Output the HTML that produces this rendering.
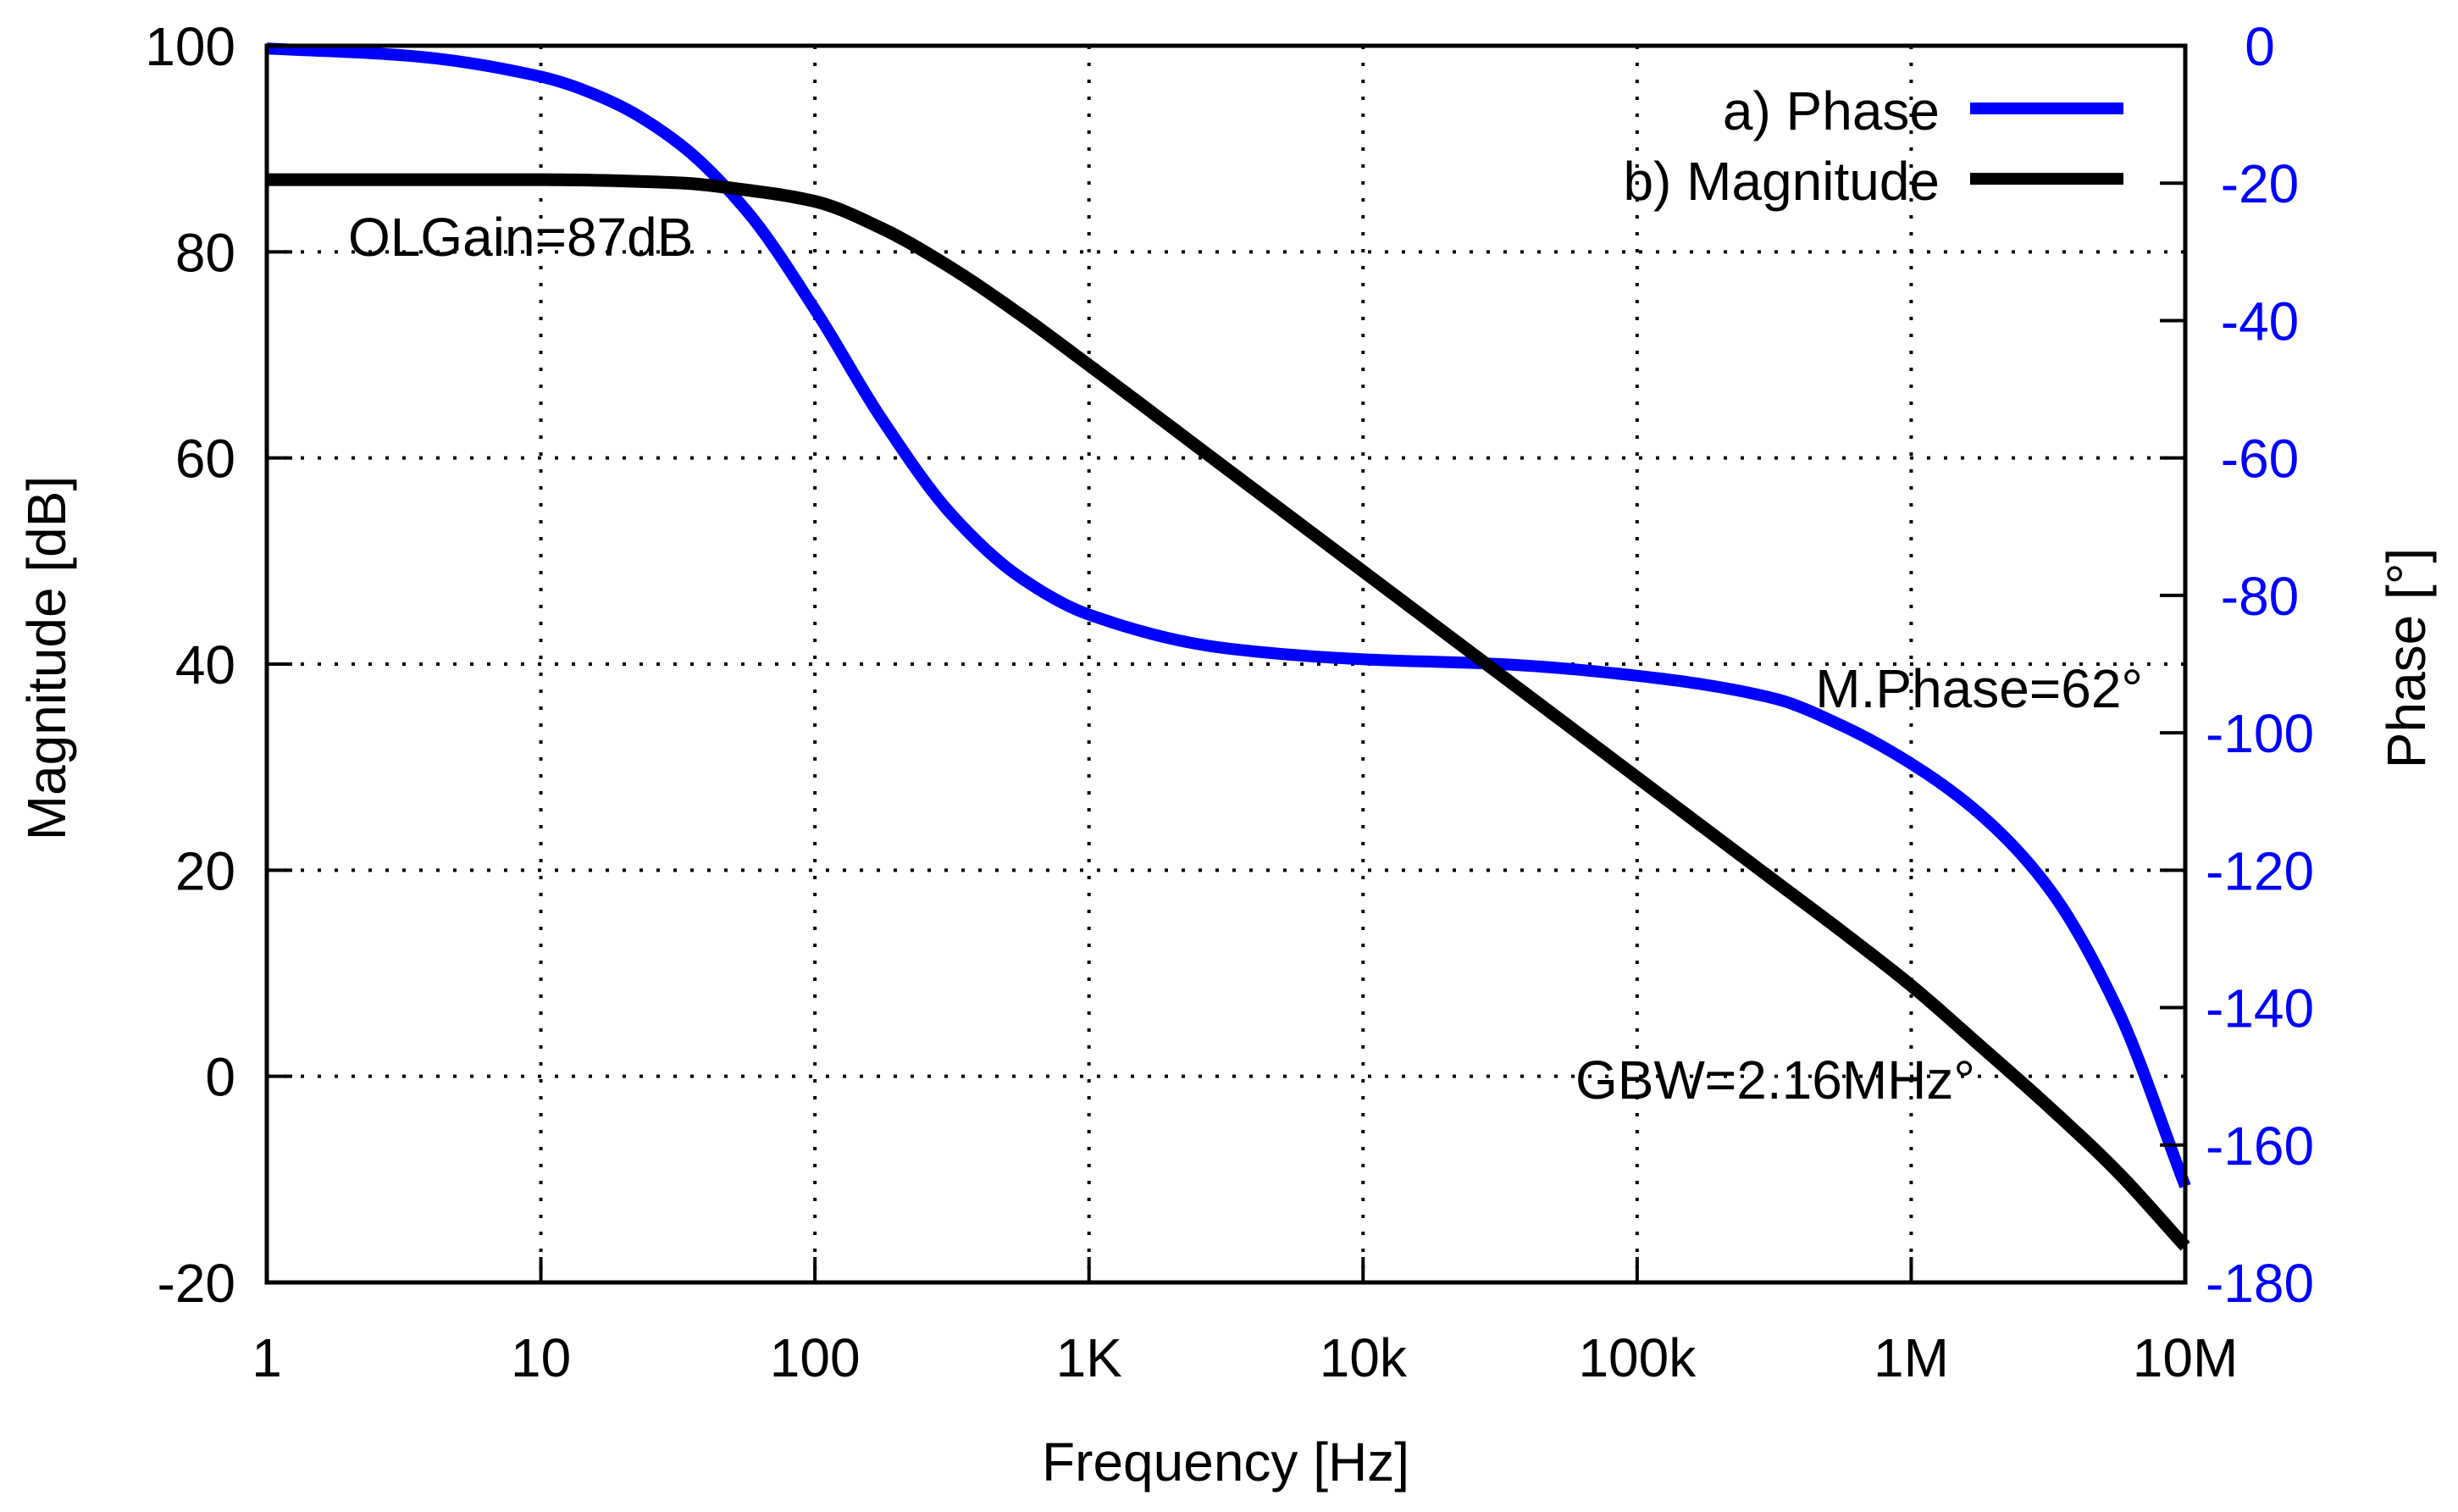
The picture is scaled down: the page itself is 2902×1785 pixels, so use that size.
<!DOCTYPE html>
<html><head><meta charset="utf-8"><style>
html,body{margin:0;padding:0;background:#fff;}
svg{display:block;}
text{font-family:"Liberation Sans",sans-serif;}
</style></head><body>
<svg id="chart" width="2902" height="1785" viewBox="0 0 2902 1785">
<g id="grid"></g>
<g id="series"></g>
<g id="axes"></g>
<text x="60" y="777" font-size="64" text-anchor="middle" transform="rotate(-90 60 777)" dominant-baseline="middle">Magnitude [dB]</text>
<text x="2846" y="777" font-size="64" text-anchor="middle" transform="rotate(-90 2846 777)" dominant-baseline="middle">Phase [°]</text>
<text x="1447" y="1748" font-size="64" text-anchor="middle">Frequency [Hz]</text>
<text x="411" y="302" font-size="64">OLGain=87dB</text>
<text x="2530" y="835" font-size="64" text-anchor="end">M.Phase=62°</text>
<text x="1860" y="1297" font-size="64">GBW=2.16MHz°</text>
<g>
<text x="2290" y="153" font-size="64" text-anchor="end">a) Phase</text>
<line x1="2326" y1="128" x2="2507" y2="128" stroke="#0000ff" stroke-width="14"/>
<text x="2290" y="236" font-size="64" text-anchor="end">b) Magnitude</text>
<line x1="2326" y1="211" x2="2507" y2="211" stroke="#000" stroke-width="14"/>
</g>
</svg>
<script>
const magDecades = [0,0.5,1,1.5,1.75,2,2.25,2.5,2.75,3,3.5,4,4.5,5,5.5,5.75,6,6.25,6.5,6.75,7];
const magnitude = [87,87,87,86.7,86.0,84.9,82.2,78.4,73.9,69,59,49,39,29,19,14,8.8,3.0,-2.9,-9.2,-16.5];
const phaseDecades = [0,0.5,1,1.25,1.5,1.75,2,2.25,2.5,2.75,3,3.5,4,4.5,5,5.5,5.75,6,6.25,6.5,6.75,7];
const phase = [-0.4,-1.4,-4.5,-8,-14.1,-24,-38.4,-54.7,-68.3,-77.4,-82.8,-87.7,-89.3,-90,-91.7,-95,-99,-104.5,-111.8,-122.5,-140,-166];
const xTickValues = [1,10,100,1000,1e4,1e5,1e6,1e7];
const xTickLabels = ["1","10","100","1K","10k","100k","1M","10M"];
const magTicks = [-20,0,20,40,60,80,100];
const phaseTicks = [0,-20,-40,-60,-80,-100,-120,-140,-160,-180];

const L=315,R=2580,T=54,B=1514;
const NS="http://www.w3.org/2000/svg";
function xd(d){return L+d/7*(R-L);}
function xs(f){return xd(Math.log10(f));}
function ym(v){return B-(v+20)/120*(B-T);}
function yp(v){return B-(v+180)/180*(B-T);}
function mk(tag,attrs,parent){const e=document.createElementNS(NS,tag);for(const k in attrs)e.setAttribute(k,attrs[k]);parent.appendChild(e);return e;}
const grid=document.getElementById('grid'),axes=document.getElementById('axes'),series=document.getElementById('series');

xTickValues.forEach((v,i)=>{
  const x=xs(v);
  if(i>0&&i<xTickValues.length-1){
    const g=mk('line',{x1:x,y1:T,x2:x,y2:B,stroke:'#000','stroke-width':4,'stroke-dasharray':'4 16'},grid);
    
    
    const t1=mk('line',{x1:x,y1:B,x2:x,y2:B-30,stroke:'#000','stroke-width':4},axes);
    
    
  }
  const t=mk('text',{x:x,y:1625,'font-size':64,'text-anchor':'middle'},axes);
  t.textContent=xTickLabels[i];
  
  
});
magTicks.forEach((v,i)=>{
  const y=ym(v);
  if(i>0&&i<magTicks.length-1){
    const g=mk('line',{x1:L,y1:y,x2:R,y2:y,stroke:'#000','stroke-width':4,'stroke-dasharray':'4 16'},grid);
    
    
    const t1=mk('line',{x1:L,y1:y,x2:L+30,y2:y,stroke:'#000','stroke-width':4},axes);
    
    
  }
  const t=mk('text',{x:278,y:y+23,'font-size':64,'text-anchor':'end'},axes);
  t.textContent=String(v);
  
  
});
phaseTicks.forEach((v,i)=>{
  const y=yp(v);
  if(i>0&&i<phaseTicks.length-1){
    const t1=mk('line',{x1:R,y1:y,x2:R-30,y2:y,stroke:'#000','stroke-width':4},axes);
    
    
  }
  const t=mk('text',{x:2668,y:y+23,'font-size':64,'text-anchor':'middle',fill:'#0000ff'},axes);
  t.textContent=String(v);
  
  
});
const frame=mk('rect',{x:L,y:T,width:R-L,height:B-T,fill:'none',stroke:'#000','stroke-width':5},axes);



function monotonePath(xsArr,ysArr){
  const n=xsArr.length,h=[],s=[],m=new Array(n);
  for(let i=0;i<n-1;i++){h[i]=xsArr[i+1]-xsArr[i];s[i]=(ysArr[i+1]-ysArr[i])/h[i];}
  m[0]=s[0];m[n-1]=s[n-2];
  for(let i=1;i<n-1;i++){
    if(s[i-1]*s[i]<=0)m[i]=0;
    else{const w1=2*h[i]+h[i-1],w2=h[i]+2*h[i-1];m[i]=(w1+w2)/(w1/s[i-1]+w2/s[i]);}
  }
  let d='';
  for(let i=0;i<n-1;i++){
    const steps=20;
    for(let k=(i===0?0:1);k<=steps;k++){
      const t=k/steps,t2=t*t,t3=t2*t;
      const y=(2*t3-3*t2+1)*ysArr[i]+(t3-2*t2+t)*h[i]*m[i]+(-2*t3+3*t2)*ysArr[i+1]+(t3-t2)*h[i]*m[i+1];
      const x=xsArr[i]+t*h[i];
      d+=(d?' L':'M')+x.toFixed(2)+','+y.toFixed(2);
    }
  }
  return d;
}
const pp=mk('path',{d:monotonePath(phaseDecades.map(xd),phase.map(yp)),fill:'none',stroke:'#0000ff','stroke-width':14,'stroke-linejoin':'round'},series);


const mp=mk('path',{d:monotonePath(magDecades.map(xd),magnitude.map(ym)),fill:'none',stroke:'#000','stroke-width':15,'stroke-linejoin':'round'},series);


</script>
</body></html>
